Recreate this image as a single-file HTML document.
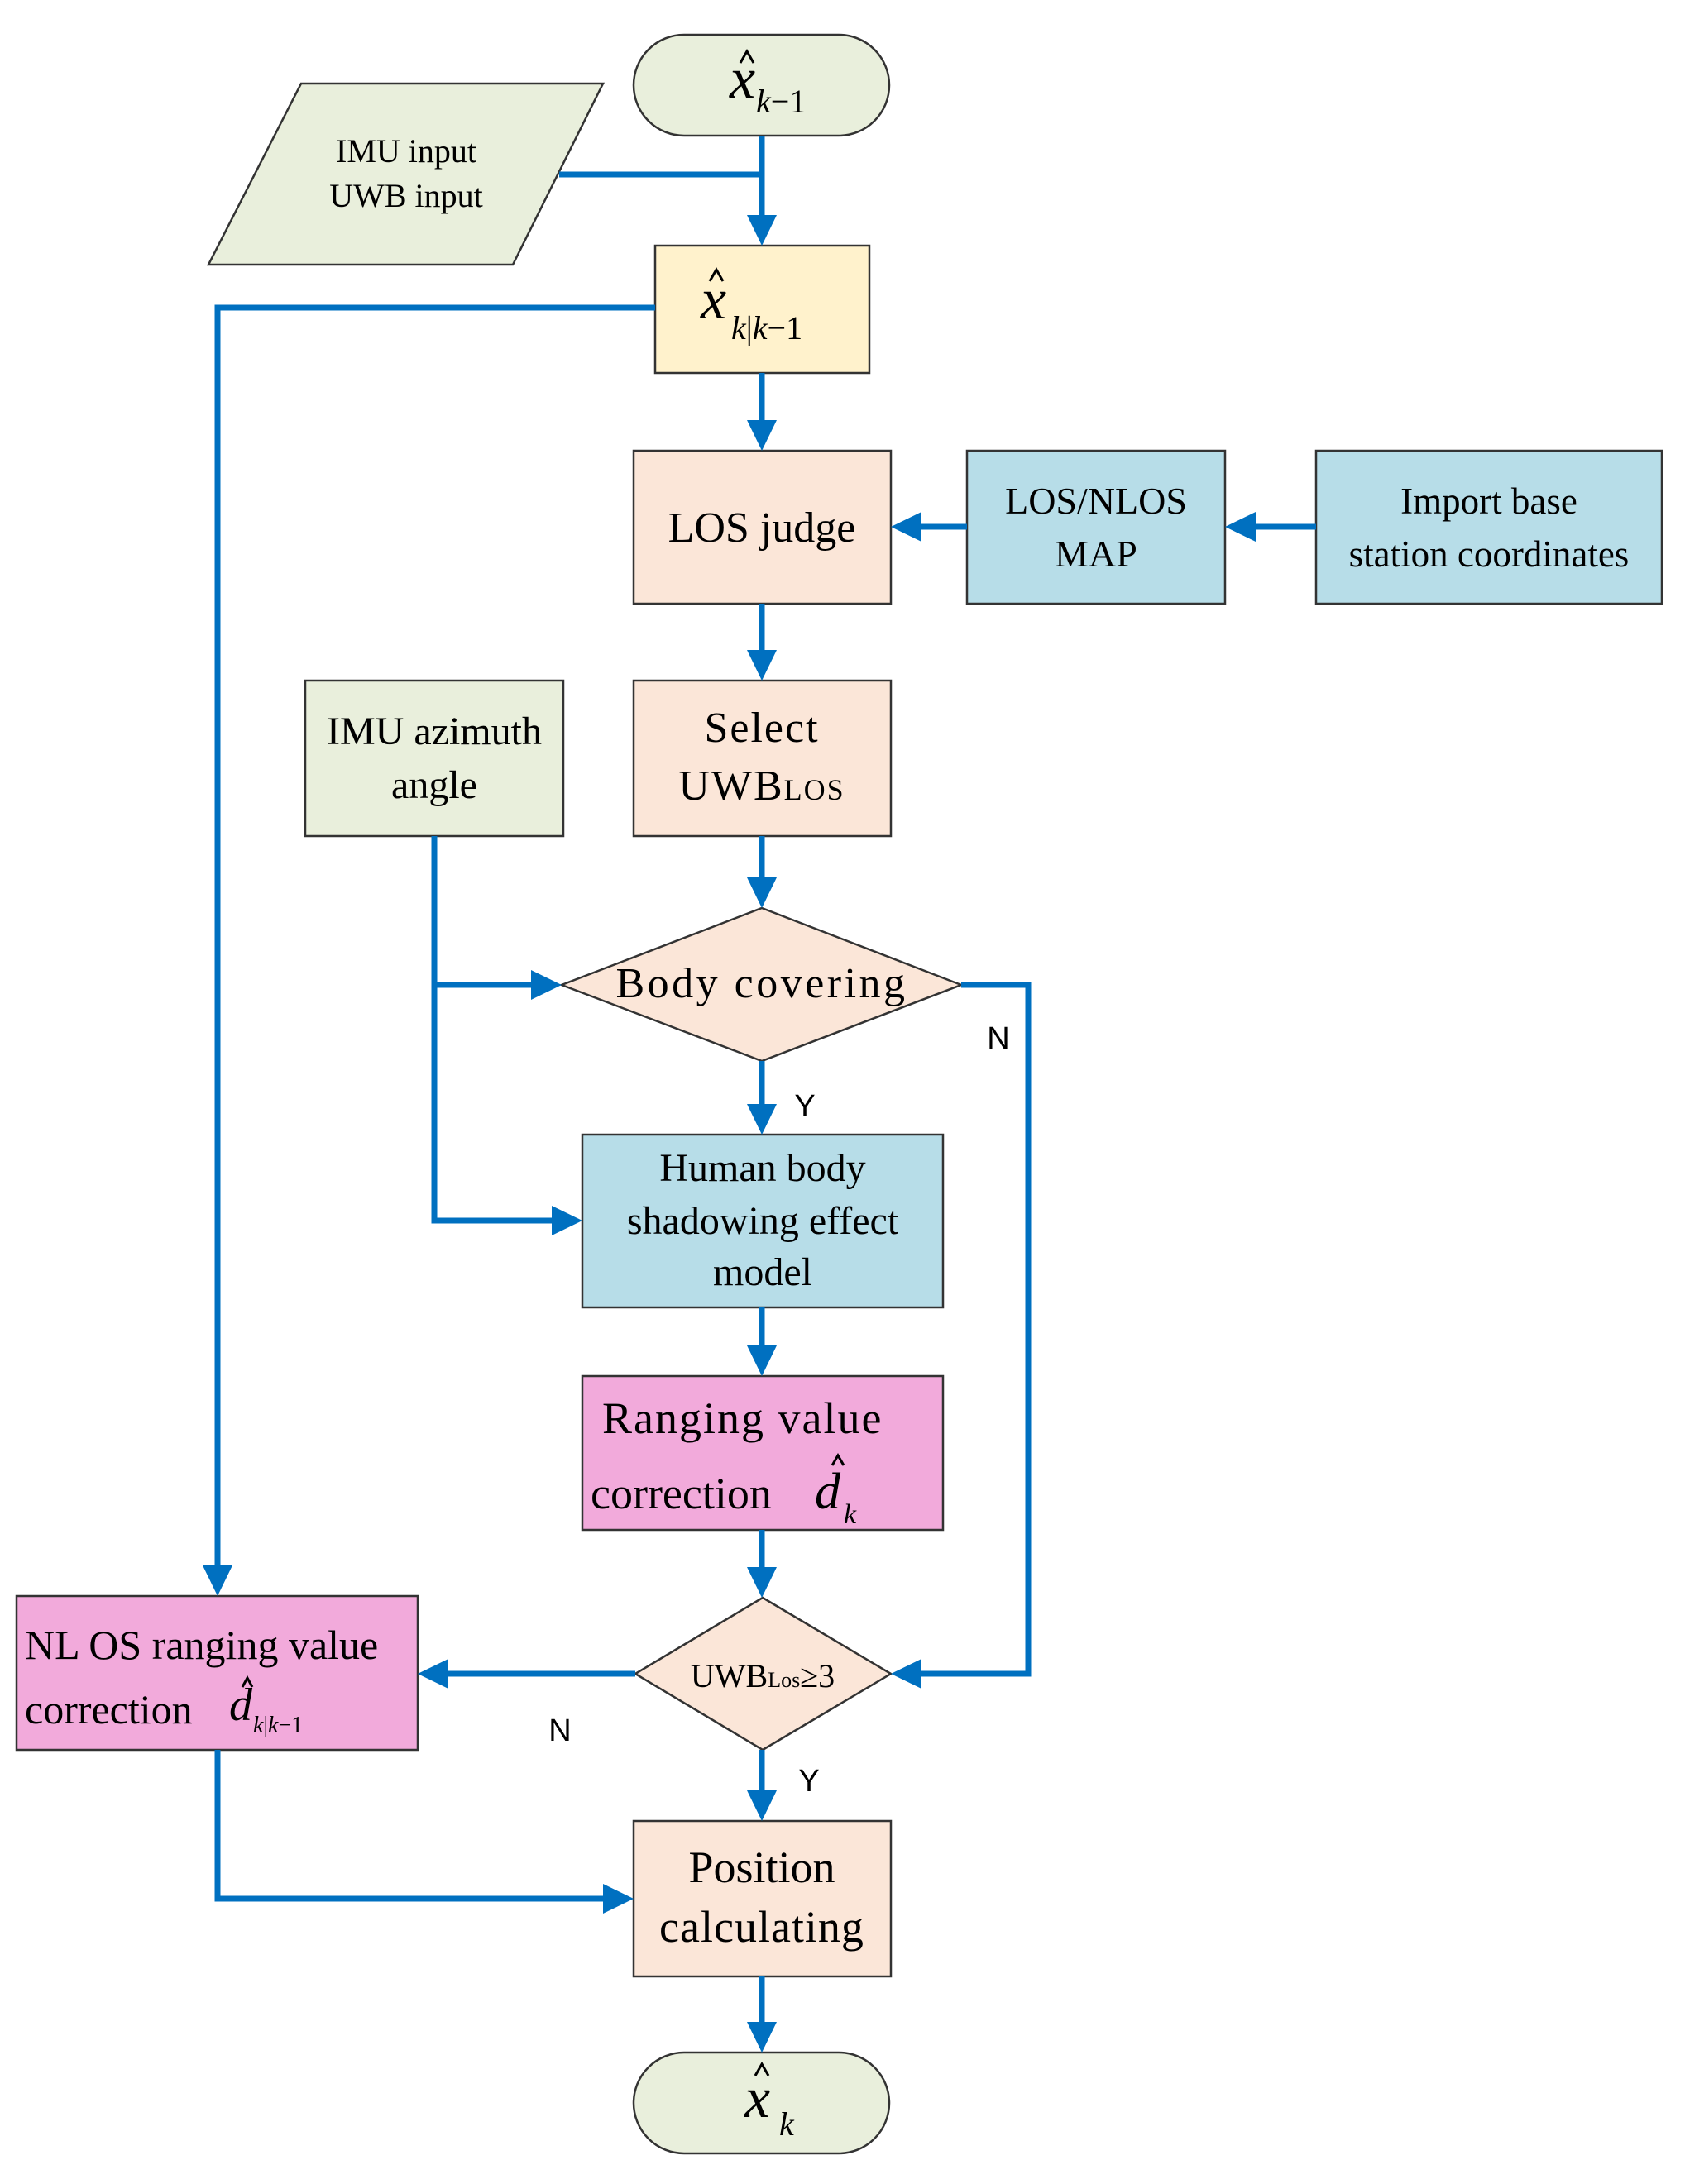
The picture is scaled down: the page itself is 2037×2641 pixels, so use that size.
<!DOCTYPE html>
<html><head><meta charset="utf-8"><style>
html,body{margin:0;padding:0;background:#fff}
svg{display:block}
text{font-family:"Liberation Serif",serif;fill:#000}
.s{font-family:"Liberation Sans",sans-serif}
</style></head><body>
<svg width="2037" height="2641" viewBox="0 0 2037 2641" xmlns="http://www.w3.org/2000/svg">
<g stroke="#333" stroke-width="2.5">
<rect x="766" y="42" width="309" height="122" rx="61" fill="#e9efdc"/>
<polygon points="364,101 729,101 620,320 252,320" fill="#e9efdc"/>
<rect x="792" y="297" width="259" height="154" fill="#fff2cc"/>
<rect x="766" y="545" width="311" height="185" fill="#fbe6d8"/>
<rect x="1169" y="545" width="312" height="185" fill="#b7dde8"/>
<rect x="1591" y="545" width="418" height="185" fill="#b7dde8"/>
<rect x="766" y="823" width="311" height="188" fill="#fbe6d8"/>
<rect x="369" y="823" width="312" height="188" fill="#e9efdc"/>
<polygon points="921,1098 1162,1191 921,1283 679,1191" fill="#fbe6d8"/>
<rect x="704" y="1372" width="436" height="209" fill="#b7dde8"/>
<rect x="704" y="1664" width="436" height="186" fill="#f2aadb"/>
<polygon points="922,1932 1077,2024 922,2116 768,2024" fill="#fbe6d8"/>
<rect x="20" y="1930" width="485" height="186" fill="#f2aadb"/>
<rect x="766" y="2202" width="311" height="188" fill="#fbe6d8"/>
<rect x="766" y="2482" width="309" height="122" rx="61" fill="#e9efdc"/>
</g>
<g stroke="#0070c0" stroke-width="7" fill="none">
<path d="M921 164 V262"/>
<path d="M676 211 H921"/>
<path d="M792 372 H263 V1895"/>
<path d="M921 451 V510"/>
<path d="M1169 637 H1112"/>
<path d="M1591 637 H1516"/>
<path d="M921 730 V788"/>
<path d="M921 1011 V1063"/>
<path d="M525 1011 V1476 H669"/>
<path d="M525 1191 H644"/>
<path d="M1162 1191 H1243 V2024 H1112"/>
<path d="M921 1283 V1337"/>
<path d="M921 1581 V1629"/>
<path d="M921 1850 V1897"/>
<path d="M768 2024 H540"/>
<path d="M921 2116 V2167"/>
<path d="M263 2116 V2296 H731"/>
<path d="M921 2390 V2447"/>
</g>
<g fill="#0070c0">
<polygon points="903,260 939,260 921,297"/>
<polygon points="903,508 939,508 921,545"/>
<polygon points="1114,619 1114,655 1077,637"/>
<polygon points="1518,619 1518,655 1481,637"/>
<polygon points="903,786 939,786 921,823"/>
<polygon points="903,1061 939,1061 921,1098"/>
<polygon points="245,1893 281,1893 263,1930"/>
<polygon points="642,1173 642,1209 679,1191"/>
<polygon points="667,1458 667,1494 704,1476"/>
<polygon points="903,1335 939,1335 921,1372"/>
<polygon points="903,1627 939,1627 921,1664"/>
<polygon points="903,1895 939,1895 921,1932"/>
<polygon points="1114,2006 1114,2042 1077,2024"/>
<polygon points="542,2006 542,2042 505,2024"/>
<polygon points="903,2165 939,2165 921,2202"/>
<polygon points="729,2278 729,2314 766,2296"/>
<polygon points="903,2445 939,2445 921,2482"/>
</g>
<g stroke="#000" stroke-width="3" fill="none">
<path d="M895 76 L903 62 L911 76"/>
<path d="M858 340 L866 326 L874 340"/>
<path d="M913 2510 L921 2496 L929 2510"/>
<path d="M1006 1772 L1013 1760 L1020 1772"/>
<path d="M293 2040 L299 2029 L305 2040"/>
</g>
<!-- labels -->
<text x="882" y="118" font-size="70" font-style="italic">x</text>
<text x="914" y="136" font-size="40"><tspan font-style="italic">k</tspan>−1</text>

<text x="491" y="196" font-size="40" text-anchor="middle">IMU input</text>
<text x="491" y="250" font-size="40" text-anchor="middle">UWB input</text>

<text x="847" y="385" font-size="70" font-style="italic">x</text>
<text x="884" y="410" font-size="40"><tspan font-style="italic">k</tspan>|<tspan font-style="italic">k</tspan>−1</text>

<text x="921" y="655" font-size="52" text-anchor="middle">LOS judge</text>
<text x="1325" y="621" font-size="46" text-anchor="middle">LOS/NLOS</text>
<text x="1325" y="685" font-size="46" text-anchor="middle">MAP</text>
<text x="1800" y="621" font-size="45" text-anchor="middle">Import base</text>
<text x="1800" y="685" font-size="45" text-anchor="middle">station coordinates</text>

<text x="921" y="897" font-size="52" text-anchor="middle" letter-spacing="2">Select</text>
<text x="921" y="967" font-size="52" text-anchor="middle" letter-spacing="2">UWB<tspan font-size="36">LOS</tspan></text>
<text x="525" y="900" font-size="48" text-anchor="middle">IMU azimuth</text>
<text x="525" y="965" font-size="48" text-anchor="middle">angle</text>

<text x="921" y="1206" font-size="52" text-anchor="middle" letter-spacing="3.5">Body covering</text>
<text class="s" x="1207" y="1268" font-size="38" text-anchor="middle">N</text>
<text class="s" x="973" y="1350" font-size="38" text-anchor="middle">Y</text>

<text x="922" y="1428" font-size="48" text-anchor="middle">Human body</text>
<text x="922" y="1492" font-size="48" text-anchor="middle">shadowing effect</text>
<text x="922" y="1554" font-size="48" text-anchor="middle">model</text>

<text x="728" y="1733" font-size="54" letter-spacing="2">Ranging value</text>
<text x="714" y="1824" font-size="54">correction</text>
<text x="985" y="1824" font-size="62" font-style="italic">d</text>
<text x="1020" y="1842" font-size="34" font-style="italic">k</text>

<text x="922" y="2040" font-size="40" text-anchor="middle">UWB<tspan font-size="26">Los</tspan>≥3</text>
<text class="s" x="677" y="2105" font-size="38" text-anchor="middle">N</text>
<text class="s" x="978" y="2166" font-size="38" text-anchor="middle">Y</text>

<text x="30" y="2006" font-size="50">NL OS ranging value</text>
<text x="30" y="2084" font-size="50">correction</text>
<text x="277" y="2080" font-size="56" font-style="italic">d</text>
<text x="306" y="2095" font-size="28"><tspan font-style="italic">k</tspan>|<tspan font-style="italic">k</tspan>−1</text>

<text x="921" y="2276" font-size="54" text-anchor="middle">Position</text>
<text x="921" y="2348" font-size="54" text-anchor="middle" letter-spacing="1">calculating</text>

<text x="900" y="2560" font-size="70" font-style="italic">x</text>
<text x="942" y="2582" font-size="40" font-style="italic">k</text>
</svg>
</body></html>
